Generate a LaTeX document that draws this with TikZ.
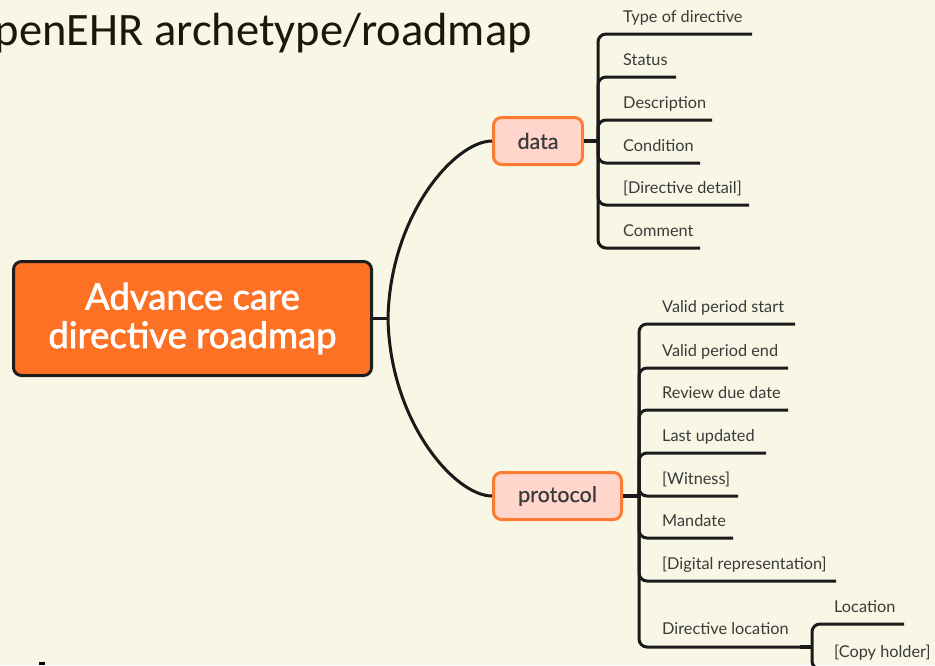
\documentclass[tikz,border=0pt]{standalone}
\usepackage{fontspec}
\setmainfont{Lato}
\newfontfamily\titlefont{Carlito}
\newfontfamily\rootfont[FakeBold=1.8]{Lato}
\newfontfamily\subfont[FakeBold=0.4]{Lato}
\definecolor{bg}{HTML}{F8F7E5}
\definecolor{rootfill}{HTML}{FC7124}
\definecolor{rootdraw}{HTML}{1E1E1E}
\definecolor{subfill}{HTML}{FFD5CC}
\definecolor{subdraw}{HTML}{FF7B31}
\definecolor{labelc}{HTML}{3A3A3A}
\definecolor{linec}{HTML}{1A1A1A}
\definecolor{titlec}{HTML}{1C160C}
\begin{document}
\begin{tikzpicture}[x=1pt,y=-1pt,
  conn/.style={draw=linec, line width=3pt},
  stub/.style={draw=linec, line width=4.5pt},
  branch/.style={conn, rounded corners=8pt},
  rootbox/.style={draw=rootdraw, line width=3pt, fill=rootfill, rounded corners=8pt,
    minimum width=358pt, minimum height=114pt, text=white, align=center,
    font=\rootfont\fontsize{36.5}{38.5}\selectfont, inner sep=0pt},
  subbox/.style={draw=subdraw, line width=3pt, fill=subfill, rounded corners=8pt,
    minimum height=47pt, text=labelc, font=\subfont\fontsize{21.5}{24}\selectfont, inner sep=0pt},
  leaf/.style={anchor=base west, inner sep=0pt, text=labelc, font=\fontsize{16.3}{18}\selectfont}
]
\clip (0,0) rectangle (935,665);
\fill[bg] (0,0) rectangle (935,665);

% title (cut at left edge, as in the reference)
\node[anchor=base east, inner sep=0pt, text=titlec, font=\titlefont\fontsize{46.5}{56}\selectfont] (title) at (532,45) {openEHR archetype/roadmap};

% root
\node[rootbox] (root) at (192.5,318.5) {Advance care\\directive roadmap};

% sub topics
\node[subbox, minimum width=89pt] (data) at (538,141) {data};
\node[subbox, minimum width=128pt] (protocol) at (557.5,496) {protocol};

\coordinate (hub) at (388,318.5);
\draw[conn] (root.east) -- (hub);
\draw[conn] (hub) .. controls (390,215) and (455,141) .. (data.west);
\draw[conn] (hub) .. controls (390,422) and (455,496) .. (protocol.west);

% data children
\coordinate (dv) at (598,141);
\draw[stub] (data.east) -- (dv);
\node[leaf] (d1) at (623,22.5) {Type of directive};
\node[leaf] (d2) at (623,65.5) {Status};
\node[leaf] (d3) at (623,108.5) {Description};
\node[leaf] (d4) at (623,151.5) {Condition};
\node[leaf] (d5) at (623,193.5) {[Directive detail]};
\node[leaf] (d6) at (623,236.5) {Comment};
\coordinate (d1e) at (752,34);
\coordinate (d2e) at (676,77);
\coordinate (d3e) at (712,120);
\coordinate (d4e) at (700,163);
\coordinate (d5e) at (749,205);
\coordinate (d6e) at (700,248);
\foreach \c in {d1e,d2e,d3e,d4e,d5e,d6e} \draw[branch] (dv) |- (\c);

% protocol children
\coordinate (pv) at (639,496);
\draw[stub] (protocol.east) -- (pv);
\node[leaf] (p1) at (662,312.5) {Valid period start};
\node[leaf] (p2) at (662,356.5) {Valid period end};
\node[leaf] (p3) at (662,398.5) {Review due date};
\node[leaf] (p4) at (662,441.5) {Last updated};
\node[leaf] (p5) at (662,484.5) {[Witness]};
\node[leaf] (p6) at (662,526.5) {Mandate};
\node[leaf] (p7) at (662,569.5) {[Digital representation]};
\node[leaf] (p8) at (662,634) {Directive location};
\coordinate (p1e) at (795,324);
\coordinate (p2e) at (788,368);
\coordinate (p3e) at (788,410);
\coordinate (p4e) at (766,453);
\coordinate (p5e) at (738,496);
\coordinate (p6e) at (733,538);
\coordinate (p7e) at (836,581);
\coordinate (p8e) at (812,647);
\foreach \c in {p1e,p2e,p3e,p4e,p5e,p6e,p7e,p8e} \draw[branch] (pv) |- (\c);

% directive location children
\node[leaf] (l1) at (834,612) {Location};
\node[leaf] (l2) at (834,657) {[Copy holder]};
\coordinate (l1e) at (904,624);
\coordinate (l2e) at (940,669);
\draw[stub] (p8e) ++(-12,0) -- (p8e);
\draw[branch] (p8e) |- (l1e);
\draw[branch] (p8e) |- (l2e);

% cut-off mark at bottom left
\fill[black] (39,662) rectangle (45,665);
\end{tikzpicture}
\end{document}
